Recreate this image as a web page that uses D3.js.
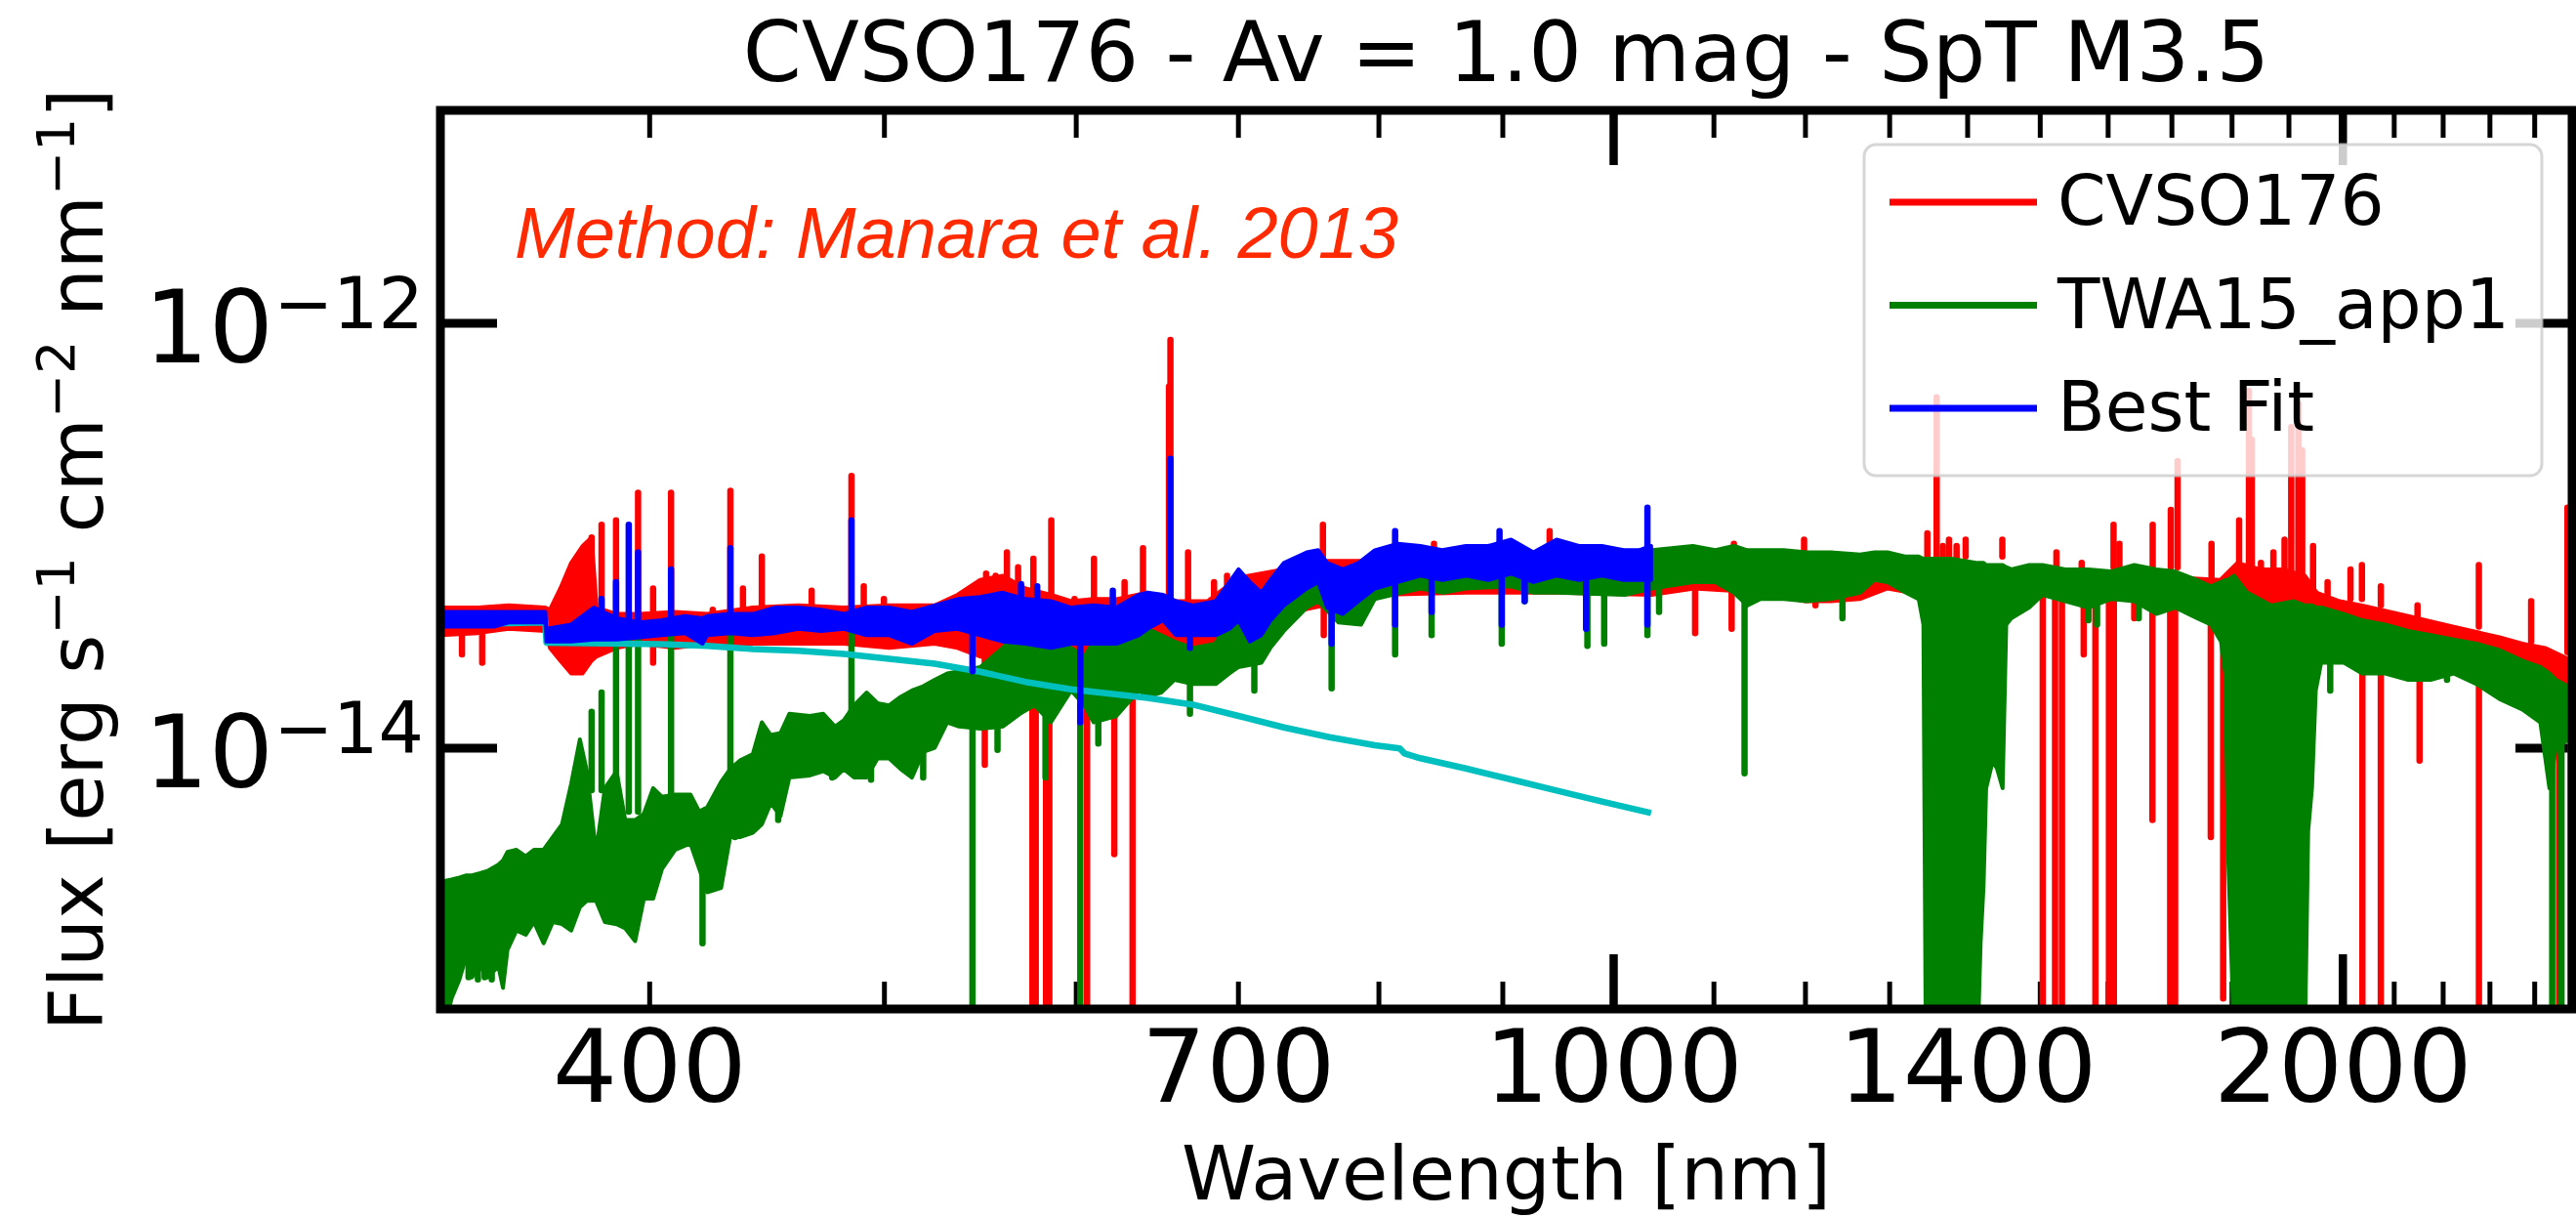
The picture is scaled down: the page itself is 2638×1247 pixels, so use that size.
<!DOCTYPE html>
<html>
<head>
<meta charset="utf-8">
<script src="https://cdn.jsdelivr.net/npm/d3@7"></script>
<style>
  html, body { margin: 0; padding: 0; background: #fff; }
  svg { display: block; }
  text { font-family: "DejaVu Sans", sans-serif; white-space: pre; }
</style>
</head>
<body>
<svg id="chart"></svg>
<script>
// wavelength in nm, flux given as log10(erg s-1 cm-2 nm-1)
// bands: [wavelength, lower edge, upper edge]   lines: [wavelength, from, to]

var redBand = [
  [328, -13.47, -13.34], [340, -13.46, -13.34], [350, -13.44, -13.33], [362.4, -13.45, -13.34],
  [364, -13.53, -13.35], [367.6, -13.59, -13.25], [371.4, -13.65, -13.13], [375.5, -13.65, -13.05],
  [378.7, -13.59, -13.01], [380.5, -13.57, -13.34], [387.8, -13.53, -13.37], [396.3, -13.51, -13.37],
  [410, -13.53, -13.36], [422.7, -13.51, -13.37], [441.4, -13.51, -13.34], [460.9, -13.51, -13.33],
  [481.3, -13.51, -13.34], [502.5, -13.53, -13.33], [524.7, -13.51, -13.33], [536.2, -13.53, -13.28],
  [547.9, -13.57, -13.21], [559.8, -13.60, -13.19], [572.1, -13.59, -13.25], [586, -13.59, -13.28],
  [597.4, -13.56, -13.31], [610.3, -13.59, -13.30], [623.7, -13.60, -13.30], [642.4, -13.59, -13.27],
  [660, -13.62, -13.31], [680, -13.68, -13.31], [700, -13.59, -13.20], [731, -13.37, -13.16],
  [760, -13.33, -13.12], [800, -13.28, -13.12], [870, -13.27, -13.10], [950, -13.27, -13.10],
  [1037, -13.28, -13.10], [1080, -13.25, -13.11], [1150, -13.27, -13.12], [1200, -13.31, -13.12],
  [1230, -13.31, -13.13], [1264, -13.30, -13.19], [1298, -13.25, -13.17], [1327, -13.27, -13.19],
  [1343, -13.24, -13.16], [1379, -13.22, -13.15], [1404, -13.22, -13.16], [1440, -13.24, -13.17],
  [1504, -13.26, -13.18], [1571, -13.28, -13.19], [1641, -13.29, -13.19], [1714, -13.31, -13.20],
  [1781, -13.34, -13.21], [1810, -13.31, -13.13], [1850, -13.34, -13.16], [1890, -13.34, -13.16],
  [1930, -13.36, -13.19], [1952, -13.37, -13.27], [1995, -13.42, -13.31], [2038, -13.45, -13.33],
  [2129, -13.50, -13.38], [2223, -13.54, -13.43], [2322, -13.59, -13.48], [2373, -13.62, -13.51],
  [2425, -13.65, -13.53], [2488, -13.74, -13.59]
]

var redLines = [
  [378.7, -13.30, -13.01], [382.3, -13.38, -12.95], [387.6, -13.38, -12.93], [395.8, -13.38, -12.80],
  [401.5, -13.38, -13.25], [408.4, -13.38, -12.80], [424.9, -13.38, -13.35], [432.1, -13.38, -12.79],
  [437.3, -13.38, -13.25], [445.2, -13.38, -13.10], [466.8, -13.36, -13.26], [484.8, -13.36, -12.72],
  [490.5, -13.36, -13.24], [500.0, -13.36, -13.30], [551.0, -13.25, -13.18], [556.0, -13.25, -13.19],
  [562.0, -13.25, -13.08], [568.0, -13.25, -13.15], [576.3, -13.28, -13.11], [586.2, -13.30, -12.93],
  [599.3, -13.32, -13.30], [610.5, -13.32, -13.11], [628.5, -13.32, -13.22], [639.6, -13.30, -13.06],
  [655.6, -13.30, -12.30], [656.5, -13.30, -12.08], [667.6, -13.30, -13.08], [684.3, -13.30, -13.22],
  [692.8, -13.25, -13.19], [758.9, -13.10, -12.95], [843.4, -13.10, -13.04], [941.4, -13.10, -12.98],
  [1121.6, -13.10, -13.04], [1199.0, -13.10, -13.02], [1348.0, -13.15, -12.99], [1360.0, -13.10, -12.35],
  [1368.0, -13.15, -13.05], [1376.0, -13.15, -13.02], [1386.0, -13.15, -13.05], [1398.0, -13.10, -13.02],
  [1447.6, -13.10, -13.02], [1524.0, -13.15, -13.08], [1561.0, -13.15, -13.13], [1609.0, -13.15, -12.95],
  [1618.0, -13.15, -13.04], [1670.0, -13.15, -12.95], [1699.0, -13.15, -12.88], [1710.0, -13.15, -12.65],
  [1766.0, -13.20, -13.04], [1813.0, -13.20, -12.93], [1830.0, -13.20, -12.32], [1835.0, -13.20, -12.55],
  [1851.0, -13.20, -13.13], [1873.0, -13.20, -13.08], [1893.0, -13.20, -13.02], [1905.0, -13.20, -12.49],
  [1918.0, -13.20, -12.38], [1925.0, -13.20, -12.60], [1945.0, -13.25, -13.05], [1972.0, -13.28, -13.22],
  [2015.5, -13.30, -13.16], [2037.5, -13.30, -13.14], [2074.4, -13.33, -13.24], [2148.0, -13.38, -13.33],
  [2277.0, -13.43, -13.14], [2393.0, -13.50, -13.31], [2477.0, -13.55, -12.87],
  // dips
  [334.8, -13.45, -13.56], [341.3, -13.45, -13.60], [401.5, -13.50, -13.60], [550.3, -13.50, -14.08],
  [575.8, -13.50, -15.40], [577.6, -13.50, -15.40], [583.3, -13.50, -15.40], [585.1, -13.50, -15.40],
  [606.5, -13.50, -15.40], [622.4, -13.50, -14.50], [633.3, -13.50, -15.40], [759.5, -13.20, -13.47],
  [1081.0, -13.25, -13.46], [1119.2, -13.25, -13.44], [1212.0, -13.25, -13.33], [1504.3, -13.25, -15.40],
  [1522.0, -13.25, -15.40], [1532.0, -13.25, -15.40], [1564.0, -13.25, -13.56], [1581.5, -13.25, -15.40],
  [1602.0, -13.25, -15.40], [1609.5, -13.25, -15.40], [1641.0, -13.27, -13.39], [1669.6, -13.27, -14.34],
  [1698.0, -13.27, -15.40], [1706.0, -13.27, -15.40], [1764.8, -13.30, -14.42], [1785.7, -13.30, -15.18],
  [2038.4, -13.40, -15.40], [2074.4, -13.40, -15.40], [2152.2, -13.45, -14.06], [2277.1, -13.50, -15.40],
  [2457.4, -13.60, -15.40], [2485.0, -13.60, -15.40]
]

var greenBand = [
  [328, -15.40, -14.63], [331.5, -15.18, -14.62], [334, -15.09, -14.61], [336.2, -14.98, -14.60],
  [338, -15.08, -14.60], [340.6, -15.03, -14.59], [343, -15.08, -14.58], [346.6, -15.03, -14.55],
  [348.1, -15.13, -14.53], [349.6, -14.95, -14.49], [352.6, -14.86, -14.48], [355.7, -14.88, -14.51],
  [358.5, -14.82, -14.48], [361.8, -14.92, -14.48], [365, -14.82, -14.42], [368.2, -14.83, -14.36],
  [371.4, -14.86, -14.17], [374.5, -14.75, -13.96], [377, -14.72, -14.11], [380.3, -14.72, -14.49],
  [383.5, -14.82, -14.19], [387.8, -14.83, -14.11], [391, -14.85, -14.34], [394.7, -14.91, -14.34],
  [398, -14.71, -14.31], [401.5, -14.71, -14.19], [404.9, -14.57, -14.23], [410, -14.48, -14.22],
  [416, -14.45, -14.22], [419.5, -14.57, -14.30], [422.7, -14.68, -14.28], [428.3, -14.66, -14.16],
  [432, -14.42, -14.10], [436, -14.42, -14.06], [441.4, -14.40, -14.03], [445.2, -14.36, -13.88],
  [449, -14.26, -13.94], [453.2, -14.32, -13.93], [457, -14.14, -13.84], [466, -14.13, -13.85],
  [472, -14.11, -13.84], [477.3, -14.14, -13.90], [481.3, -14.10, -13.87], [486, -14.14, -13.80],
  [491.8, -14.14, -13.74], [497, -14.05, -13.79], [502.5, -14.05, -13.80], [508, -14.10, -13.76],
  [513.5, -14.14, -13.73], [519, -14.02, -13.71], [524.7, -14.00, -13.68], [531, -13.88, -13.65],
  [537, -13.90, -13.64], [547.9, -13.91, -13.62], [559.8, -13.90, -13.53], [569, -13.84, -13.44],
  [577, -13.80, -13.50], [586, -13.88, -13.47], [597.4, -13.73, -13.53], [605, -13.80, -13.57],
  [610.3, -13.88, -13.50], [623.7, -13.85, -13.42], [637, -13.73, -13.34], [642.4, -13.76, -13.44],
  [650.8, -13.74, -13.47], [659, -13.68, -13.50], [670.7, -13.70, -13.53], [685.4, -13.70, -13.51],
  [694.4, -13.65, -13.37], [700.4, -13.62, -13.42], [715.7, -13.60, -13.36], [721.9, -13.53, -13.28],
  [731.3, -13.45, -13.24], [747.3, -13.34, -13.17], [755.5, -13.31, -13.13], [770.3, -13.41, -13.19],
  [786.9, -13.42, -13.13], [797.3, -13.30, -13.10], [818, -13.27, -13.11], [832.5, -13.25, -13.10],
  [850.8, -13.27, -13.11], [869.3, -13.25, -13.10], [907.5, -13.24, -13.10], [927.3, -13.27, -13.11],
  [947.6, -13.27, -13.10], [1011, -13.28, -13.10], [1037.6, -13.25, -13.07], [1078.7, -13.22, -13.05],
  [1102, -13.22, -13.07], [1121.6, -13.27, -13.05], [1136, -13.33, -13.07], [1150, -13.30, -13.07],
  [1176, -13.30, -13.07], [1202, -13.31, -13.08], [1230, -13.30, -13.08], [1264.6, -13.27, -13.09],
  [1282, -13.21, -13.08], [1298, -13.22, -13.08], [1320.7, -13.27, -13.10], [1337, -13.30, -13.10],
  [1343, -13.42, -13.11], [1346, -15.40, -13.11], [1379, -15.40, -13.11], [1414, -15.40, -13.13],
  [1418, -14.92, -13.13], [1422, -14.65, -13.13], [1425.5, -14.19, -13.14], [1434.6, -14.06, -13.14],
  [1440.5, -14.10, -13.14], [1448, -14.19, -13.14], [1453, -13.42, -13.15], [1460, -13.39, -13.16],
  [1485, -13.34, -13.14], [1504, -13.28, -13.14], [1537, -13.31, -13.16], [1571, -13.34, -13.16],
  [1605, -13.30, -13.17], [1641, -13.31, -13.14], [1676, -13.37, -13.16], [1706, -13.34, -13.17],
  [1742, -13.39, -13.21], [1765, -13.42, -13.24], [1782, -13.50, -13.22], [1789.5, -13.65, -13.21],
  [1794, -14.49, -13.21], [1804.5, -15.40, -13.19], [1827, -15.40, -13.27], [1869, -15.40, -13.33],
  [1910, -15.40, -13.31], [1930, -15.40, -13.33], [1936, -14.39, -13.33], [1943, -14.19, -13.33],
  [1950, -13.73, -13.34], [1960, -13.60, -13.34], [2003, -13.60, -13.37], [2038, -13.65, -13.40],
  [2083, -13.65, -13.42], [2129, -13.68, -13.45], [2175, -13.68, -13.47], [2223, -13.65, -13.49],
  [2272, -13.70, -13.51], [2322, -13.77, -13.54], [2373, -13.82, -13.59], [2414, -13.88, -13.62],
  [2435, -14.19, -13.65], [2450, -14.00, -13.68], [2488, -13.95, -13.72]
]

var greenLines = [
  [378.7, -14.20, -13.83], [382.3, -14.20, -13.74], [387.6, -14.20, -13.53], [392.3, -14.30, -13.47],
  [395.8, -14.30, -13.49], [408.4, -14.30, -13.47], [432.1, -14.20, -13.47], [484.8, -13.90, -13.45],
  [336.9, -14.80, -15.08], [339.9, -14.80, -15.09], [342.1, -14.80, -15.08], [344.4, -14.80, -15.09],
  [420.8, -14.50, -14.92], [434.0, -14.30, -14.42], [452.2, -14.10, -14.34], [476.0, -14.00, -14.14],
  [493.9, -14.00, -14.15], [519.0, -13.90, -14.14],
  [543.9, -13.80, -15.40], [557.0, -13.80, -14.01], [583.0, -13.80, -14.14],
  [602.6, -13.80, -15.40], [613.0, -13.80, -13.98], [668.8, -13.60, -13.84], [711.0, -13.50, -13.73],
  [765.2, -13.30, -13.72], [812.8, -13.20, -13.56], [841.5, -13.20, -13.47], [899.5, -13.20, -13.51],
  [919.3, -13.20, -13.31], [975.8, -13.20, -13.52], [991.5, -13.20, -13.51], [1033.1, -13.20, -13.47],
  [1044.6, -13.20, -13.36], [1133.0, -13.20, -14.12], [1243.5, -13.20, -13.39], [1571.0, -13.25, -13.40],
  [1584.0, -13.25, -13.42], [1648.0, -13.25, -13.39], [1977.0, -13.50, -13.73], [2209.0, -13.55, -13.68],
  [2441.5, -13.75, -15.40], [2463.0, -13.75, -15.40]
]

var blueBand = [
  [328, -13.43, -13.36], [345, -13.43, -13.36], [350, -13.41, -13.36], [362.4, -13.41, -13.36],
  [362.8, -13.50, -13.44], [371.4, -13.50, -13.42], [379.5, -13.49, -13.34], [387.8, -13.49, -13.39],
  [396.3, -13.48, -13.41], [404.9, -13.47, -13.40], [413.8, -13.46, -13.38], [420.8, -13.51, -13.39],
  [422.7, -13.47, -13.38], [432.0, -13.46, -13.37], [441.4, -13.47, -13.37], [451.1, -13.46, -13.34],
  [460.9, -13.44, -13.34], [471.0, -13.45, -13.35], [481.3, -13.44, -13.37], [491.8, -13.47, -13.34],
  [502.5, -13.47, -13.34], [513.5, -13.51, -13.36], [524.7, -13.45, -13.33], [536.2, -13.44, -13.30],
  [547.9, -13.47, -13.29], [559.8, -13.50, -13.27], [572.1, -13.51, -13.30], [586.0, -13.53, -13.31],
  [597.4, -13.51, -13.34], [610.3, -13.51, -13.33], [623.7, -13.51, -13.34], [637.0, -13.47, -13.28],
  [642.4, -13.44, -13.27], [652.0, -13.40, -13.28], [660.0, -13.47, -13.31], [670.7, -13.47, -13.33],
  [685.4, -13.47, -13.31], [694.4, -13.44, -13.22], [700.4, -13.40, -13.16], [708.0, -13.50, -13.22],
  [715.7, -13.47, -13.27], [722.0, -13.40, -13.21], [731.3, -13.33, -13.13], [747.3, -13.25, -13.08],
  [755.5, -13.22, -13.07], [762.0, -13.34, -13.13], [773.4, -13.37, -13.16], [785.0, -13.31, -13.13],
  [797.3, -13.25, -13.07], [815.0, -13.22, -13.04], [832.5, -13.19, -13.05], [850.0, -13.21, -13.07],
  [869.3, -13.19, -13.05], [888.0, -13.21, -13.05], [907.5, -13.18, -13.02], [927.0, -13.22, -13.08],
  [947.6, -13.19, -13.02], [968.0, -13.21, -13.05], [989.4, -13.19, -13.05], [1010.0, -13.21, -13.07],
  [1025.0, -13.21, -13.07], [1036.7, -13.21, -13.05]
]

var blueLines = [
  [382.3, -13.40, -13.30], [387.6, -13.40, -13.22], [392.3, -13.42, -12.95], [395.8, -13.42, -13.08],
  [408.4, -13.42, -13.16], [432.1, -13.40, -13.06], [484.8, -13.38, -12.93], [569.6, -13.30, -13.23],
  [578.4, -13.30, -13.24], [621.5, -13.34, -13.26], [656.5, -13.30, -12.64], [812.8, -13.10, -12.98],
  [897.6, -13.10, -12.98], [1033.1, -13.10, -12.87],
  [543.9, -13.40, -13.64], [602.6, -13.45, -13.88], [668.8, -13.40, -13.53], [765.2, -13.20, -13.51],
  [812.8, -13.20, -13.42], [841.5, -13.15, -13.36], [899.5, -13.15, -13.42], [919.3, -13.15, -13.31],
  [974.6, -13.15, -13.44], [1033.1, -13.15, -13.42]
]

// cyan continuum: [wavelength, log10 flux]
var slab = [
  [328, -13.42], [362.4, -13.41], [362.8, -13.505], [404.9, -13.512], [422.7, -13.52], [441.4, -13.535],
  [460.9, -13.543], [481.3, -13.558], [502.5, -13.581], [524.7, -13.604], [547.9, -13.642], [572.1, -13.69],
  [597.4, -13.725], [642.4, -13.765], [670.7, -13.797], [700.4, -13.85], [731.3, -13.904], [763.6, -13.95],
  [797.3, -13.988], [816.4, -14.003], [820, -14.026], [832.5, -14.049], [869.3, -14.097], [907.5, -14.149],
  [947.6, -14.201], [989.4, -14.253], [1036.7, -14.307]
]

var xMinorTicks = d3.range(400, 2500, 100).filter(function (d) { return d % 1000 != 0 })
var xMajorTicks = [1000, 2000]
var xTickLabels = [400, 700, 1000, 1400, 2000]
var yTickLabels = [1e-12, 1e-14]
var yTickExp = ["\u221212", "\u221214"]
var seriesNames = ["CVSO176", "TWA15_app1", "Best Fit"]
var seriesColors = ["#ff0000", "#008000", "#0000ff"]


var width = 2638
var height = 1247
var plotL = 451, plotR = 2634, plotT = 113, plotB = 1033
var lw = 6.5

var svg = d3.select("#chart")
  .attr("width", width)
  .attr("height", height)

var x = d3.scaleLog().domain([328, 2488]).range([plotL, plotR])
var y = d3.scaleLog().domain([5.9e-16, 1e-11]).range([plotB, plotT])
var flux = function (v) { return Math.pow(10, v) }

svg.append("defs").append("clipPath").attr("id", "plotArea")
  .append("rect")
  .attr("x", plotL).attr("y", plotT)
  .attr("width", plotR - plotL).attr("height", plotB - plotT)

// ticks sit under the data, like matplotlib
function ticks(axis, tx, ty, w) {
  var g = svg.append("g").attr("transform", "translate(" + tx + "," + ty + ")").call(axis)
  g.select(".domain").remove()
  g.selectAll("text").remove()
  g.selectAll("line").attr("stroke", "#000").attr("stroke-width", w)
}
ticks(d3.axisBottom(x).tickValues(xMinorTicks).tickSize(-28), 0, plotB, 5)
ticks(d3.axisTop(x).tickValues(xMinorTicks).tickSize(-28), 0, plotT, 5)
ticks(d3.axisBottom(x).tickValues(xMajorTicks).tickSize(-56), 0, plotB, 8.5)
ticks(d3.axisTop(x).tickValues(xMajorTicks).tickSize(-56), 0, plotT, 8.5)
ticks(d3.axisLeft(y).tickValues(yTickLabels).tickSize(-58), plotL, 0, 9)
ticks(d3.axisRight(y).tickValues(yTickLabels).tickSize(-58), plotR, 0, 9)

var plot = svg.append("g").attr("clip-path", "url(#plotArea)")

var band = d3.area()
  .x(function (d) { return x(d[0]) })
  .y0(function (d) { return y(flux(d[1])) })
  .y1(function (d) { return y(flux(d[2])) })

function drawSpectrum(bandData, lineData, color) {
  plot.append("path")
    .datum(bandData)
    .attr("d", band)
    .attr("fill", color)
    .attr("stroke", color)
    .attr("stroke-width", 4)
    .attr("stroke-linejoin", "round")
  plot.append("g")
    .selectAll("line")
    .data(lineData)
    .enter()
    .append("line")
    .attr("x1", function (d) { return x(d[0]) })
    .attr("x2", function (d) { return x(d[0]) })
    .attr("y1", function (d) { return y(flux(d[1])) })
    .attr("y2", function (d) { return y(flux(d[2])) })
    .attr("stroke", color)
    .attr("stroke-width", lw)
    .attr("stroke-linecap", "round")
}

drawSpectrum(redBand, redLines, seriesColors[0])
drawSpectrum(greenBand, greenLines, seriesColors[1])

plot.append("path")
  .datum(slab)
  .attr("d", d3.line()
    .x(function (d) { return x(d[0]) })
    .y(function (d) { return y(flux(d[1])) }))
  .attr("fill", "none")
  .attr("stroke", "#00bfbf")
  .attr("stroke-width", lw)
  .attr("stroke-linejoin", "round")

drawSpectrum(blueBand, blueLines, seriesColors[2])

// frame
svg.append("rect")
  .attr("x", plotL).attr("y", plotT)
  .attr("width", plotR - plotL).attr("height", plotB - plotT)
  .attr("fill", "none")
  .attr("stroke", "#000")
  .attr("stroke-width", 9)

// x tick labels
var xl = svg.append("g")
  .attr("transform", "translate(0," + plotB + ")")
  .call(d3.axisBottom(x).tickValues(xTickLabels).tickSize(0).tickFormat(d3.format("d")))
xl.select(".domain").remove()
xl.selectAll("line").remove()
xl.selectAll("text")
  .attr("y", 95)
  .attr("dy", null)
  .attr("fill", "#000")
  .attr("font-size", 104)
  .style("font-family", "DejaVu Sans")

// y tick labels as 10^n
svg.append("g")
  .selectAll("text")
  .data(yTickLabels)
  .enter()
  .append("text")
  .attr("x", 434)
  .attr("y", function (d) { return y(d) + 40.5 })
  .attr("text-anchor", "end")
  .attr("font-size", 104)
  .each(function (d, i) {
    var t = d3.select(this)
    t.append("tspan").text("10")
    t.append("tspan").attr("dy", -35.5).attr("font-size", 73).text(yTickExp[i])
  })

svg.append("text")
  .attr("x", (plotL + plotR) / 2)
  .attr("y", 1228)
  .attr("text-anchor", "middle")
  .attr("font-size", 77)
  .text("Wavelength [nm]")

var yl = svg.append("text")
  .attr("transform", "translate(105," + (plotT + plotB) / 2 + ") rotate(-90)")
  .attr("text-anchor", "middle")
  .attr("font-size", 77)
yl.append("tspan").text("Flux [erg s")
yl.append("tspan").attr("dy", -29).attr("font-size", 54).text("\u22121")
yl.append("tspan").attr("dy", 29).text(" cm")
yl.append("tspan").attr("dy", -29).attr("font-size", 54).text("\u22122")
yl.append("tspan").attr("dy", 29).text(" nm")
yl.append("tspan").attr("dy", -29).attr("font-size", 54).text("\u22121")
yl.append("tspan").attr("dy", 29).text("]")

svg.append("text")
  .attr("x", (plotL + plotR) / 2)
  .attr("y", 83)
  .attr("text-anchor", "middle")
  .attr("font-size", 86)
  .text("CVSO176 - Av = 1.0 mag - SpT M3.5")

svg.append("text")
  .attr("x", 527)
  .attr("y", 264)
  .style("font-family", "'Liberation Sans', Arial, sans-serif")
  .style("font-style", "italic")
  .attr("font-size", 74)
  .attr("fill", "#ff2a00")
  .text("Method: Manara et al. 2013")

// legend
var legend = svg.append("g")
legend.append("rect")
  .attr("x", 1909).attr("y", 148)
  .attr("width", 694).attr("height", 339)
  .attr("rx", 12)
  .attr("fill", "#fff").attr("fill-opacity", 0.8)
  .attr("stroke", "#ccc").attr("stroke-opacity", 0.8)
  .attr("stroke-width", 3)

var rows = legend.selectAll(".row")
  .data(seriesNames)
  .enter()
  .append("g")
  .attr("transform", function (d, i) { return "translate(0," + (207 + i * 105.5) + ")" })
rows.append("line")
  .attr("x1", 1935).attr("x2", 2086)
  .attr("stroke", function (d, i) { return seriesColors[i] })
  .attr("stroke-width", 7)
rows.append("text")
  .attr("x", 2107)
  .attr("y", 23)
  .attr("font-size", 71)
  .text(function (d) { return d })
</script>
</body>
</html>
